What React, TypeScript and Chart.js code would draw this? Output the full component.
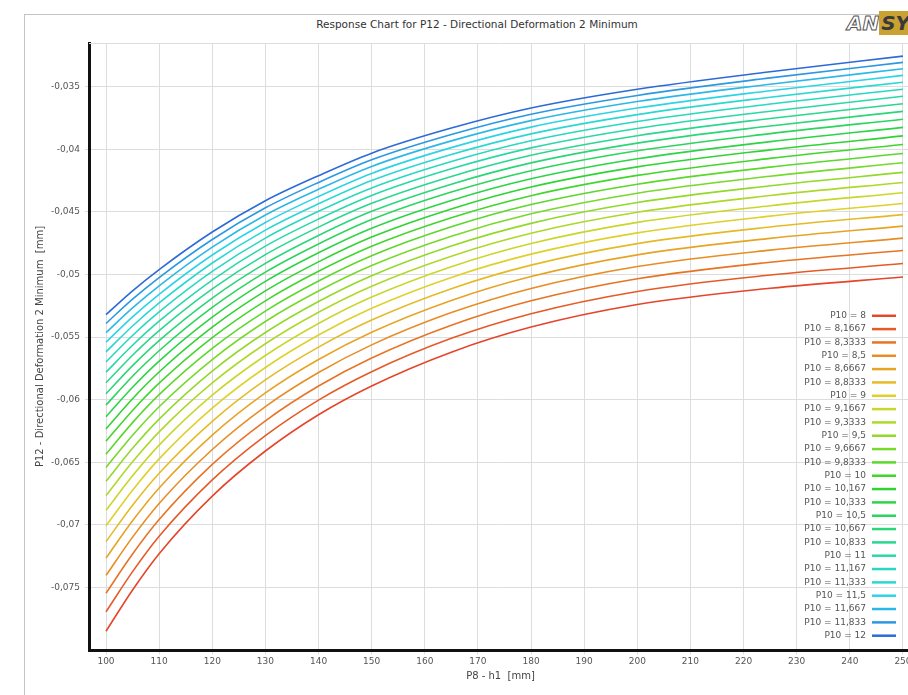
import React, { useEffect, useRef } from 'react';
import { Chart, registerables } from 'chart.js';

Chart.register(...registerables);

// ---- data ----
const hValues = [100, 105, 110, 120, 130, 140, 150, 165, 180, 200, 225, 250];
const xTicks = [100, 110, 120, 130, 140, 150, 160, 170, 180, 190, 200, 210, 220, 230, 240, 250];
const yTicks = [-0.075, -0.07, -0.065, -0.06, -0.055, -0.05, -0.045, -0.04, -0.035];
const yTickLabels = ['-0,075', '-0,07', '-0,065', '-0,06', '-0,055', '-0,05', '-0,045', '-0,04', '-0,035'];
const p10Labels = [
  'P10 = 8', 'P10 = 8,1667', 'P10 = 8,3333', 'P10 = 8,5', 'P10 = 8,6667', 'P10 = 8,8333',
  'P10 = 9', 'P10 = 9,1667', 'P10 = 9,3333', 'P10 = 9,5', 'P10 = 9,6667', 'P10 = 9,8333',
  'P10 = 10', 'P10 = 10,167', 'P10 = 10,333', 'P10 = 10,5', 'P10 = 10,667', 'P10 = 10,833',
  'P10 = 11', 'P10 = 11,167', 'P10 = 11,333', 'P10 = 11,5', 'P10 = 11,667', 'P10 = 11,833',
  'P10 = 12',
];

const s00 = [-0.0785, -0.0752, -0.0723, -0.0677, -0.0641, -0.0612, -0.0589, -0.0562, -0.0542, -0.0524, -0.0511, -0.0502];
const s01 = [-0.07695, -0.07374, -0.07091, -0.06641, -0.06287, -0.06003, -0.05776, -0.0551, -0.05313, -0.05135, -0.05004, -0.04912];
const s02 = [-0.07546, -0.07233, -0.06958, -0.06517, -0.06169, -0.05891, -0.05667, -0.05405, -0.0521, -0.05034, -0.04902, -0.04808];
const s03 = [-0.07404, -0.07098, -0.06829, -0.06398, -0.06055, -0.05783, -0.05562, -0.05304, -0.05111, -0.04936, -0.04805, -0.04709];
const s04 = [-0.07266, -0.06968, -0.06706, -0.06283, -0.05946, -0.05679, -0.05461, -0.05207, -0.05016, -0.04843, -0.04711, -0.04613];
const s05 = [-0.07134, -0.06844, -0.06588, -0.06173, -0.05842, -0.0558, -0.05364, -0.05113, -0.04925, -0.04753, -0.0462, -0.04521];
const s06 = [-0.07007, -0.06723, -0.06473, -0.06067, -0.05743, -0.05483, -0.0527, -0.05023, -0.04837, -0.04667, -0.04533, -0.04432];
const s07 = [-0.06884, -0.06608, -0.06363, -0.05964, -0.05647, -0.05391, -0.0518, -0.04937, -0.04752, -0.04583, -0.0445, -0.04346];
const s08 = [-0.06766, -0.06496, -0.06257, -0.05866, -0.05553, -0.05301, -0.05093, -0.04853, -0.0467, -0.04503, -0.04369, -0.04264];
const s09 = [-0.06652, -0.06388, -0.06155, -0.05771, -0.05463, -0.05215, -0.05009, -0.04772, -0.04591, -0.04425, -0.04291, -0.04184];
const s10 = [-0.06542, -0.06284, -0.06056, -0.05679, -0.05375, -0.05132, -0.04928, -0.04694, -0.04515, -0.0435, -0.04215, -0.04107];
const s11 = [-0.06435, -0.06183, -0.0596, -0.0559, -0.05292, -0.05052, -0.0485, -0.04619, -0.04441, -0.04278, -0.04142, -0.04033];
const s12 = [-0.06332, -0.06086, -0.05868, -0.05504, -0.0521, -0.04974, -0.04774, -0.04546, -0.0437, -0.04208, -0.04072, -0.03961];
const s13 = [-0.06233, -0.05992, -0.05779, -0.05421, -0.05131, -0.04899, -0.04701, -0.04476, -0.04301, -0.0414, -0.04004, -0.03892];
const s14 = [-0.06136, -0.05901, -0.05692, -0.05341, -0.05055, -0.04826, -0.0463, -0.04408, -0.04235, -0.04075, -0.03938, -0.03824];
const s15 = [-0.06043, -0.05813, -0.05609, -0.05263, -0.04981, -0.04756, -0.04561, -0.04341, -0.0417, -0.04011, -0.03874, -0.03759];
const s16 = [-0.05953, -0.05728, -0.05528, -0.05188, -0.04911, -0.04688, -0.04495, -0.04278, -0.04108, -0.0395, -0.03813, -0.03696];
const s17 = [-0.05865, -0.05645, -0.05449, -0.05115, -0.04841, -0.04621, -0.04431, -0.04216, -0.04047, -0.03891, -0.03753, -0.03635];
const s18 = [-0.0578, -0.05565, -0.05373, -0.05044, -0.04773, -0.04557, -0.04368, -0.04155, -0.03988, -0.03833, -0.03695, -0.03576];
const s19 = [-0.05698, -0.05487, -0.05299, -0.04975, -0.04709, -0.04495, -0.04308, -0.04097, -0.03931, -0.03777, -0.03638, -0.03519];
const s20 = [-0.05618, -0.05411, -0.05227, -0.04908, -0.04645, -0.04435, -0.04249, -0.04041, -0.03876, -0.03722, -0.03583, -0.03463];
const s21 = [-0.0554, -0.05338, -0.05158, -0.04844, -0.04584, -0.04376, -0.04192, -0.03986, -0.03822, -0.0367, -0.03531, -0.03409];
const s22 = [-0.05464, -0.05267, -0.0509, -0.04781, -0.04524, -0.04319, -0.04136, -0.03932, -0.0377, -0.03618, -0.03479, -0.03356];
const s23 = [-0.05391, -0.05197, -0.05024, -0.0472, -0.04467, -0.04264, -0.04083, -0.03881, -0.03719, -0.03569, -0.03429, -0.03305];
const s24 = [-0.0532, -0.0513, -0.0496, -0.0466, -0.0441, -0.0421, -0.0403, -0.0383, -0.0367, -0.0352, -0.0338, -0.03255];

const seriesList = [s00, s01, s02, s03, s04, s05, s06, s07, s08, s09, s10, s11, s12, s13, s14, s15, s16, s17, s18, s19, s20, s21, s22, s23, s24];

// ---- styles ----
const seriesColors = [
  '#e5452b', '#e65a26', '#e77424', '#e78d24', '#e6a425', '#e4bb27',
  '#dfd02a', '#c9d62a', '#aed82b', '#92d92b', '#76d92b', '#5bd82c',
  '#42d62d', '#2fd433', '#2cd447', '#2bd55e', '#2ad677', '#2ad790',
  '#29d8a8', '#29d8c0', '#2ad8d2', '#2cd4e6', '#2cb8e6', '#2c98e2',
  '#2c6ad8',
];

const FONT = '"DejaVu Sans", "Liberation Sans", sans-serif';

const legendPlugin = {
  id: 'customLegend',
  afterDraw(chart: any) {
    const { ctx, chartArea } = chart;
    ctx.save();
    ctx.strokeStyle = '#dddddd';
    ctx.lineWidth = 1;
    ctx.beginPath();
    ctx.moveTo(chartArea.left, chartArea.top + 0.5);
    ctx.lineTo(chartArea.right, chartArea.top + 0.5);
    ctx.stroke();

    const n = chart.data.datasets.length;
    ctx.font = `9px ${FONT}`;
    ctx.textAlign = 'right';
    ctx.textBaseline = 'middle';
    chart.data.datasets.forEach((ds: any, i: number) => {
      const y = chartArea.bottom - 14.3 - (n - 1 - i) * 13.33;
      ctx.fillStyle = '#555555';
      ctx.fillText(ds.label, chartArea.right - 46, y);
      ctx.strokeStyle = ds.borderColor;
      ctx.lineWidth = 2.5;
      ctx.beginPath();
      ctx.moveTo(chartArea.right - 40, y);
      ctx.lineTo(chartArea.right - 16, y);
      ctx.stroke();
    });
    ctx.restore();
  },
};

export default function App() {
  const canvasRef = useRef<HTMLCanvasElement | null>(null);

  useEffect(() => {
    if (!canvasRef.current) return;
    const datasets = seriesList.map((vals, i) => ({
      label: p10Labels[i],
      data: hValues.map((h, j) => ({ x: h, y: vals[j] })),
      borderColor: seriesColors[i],
      backgroundColor: seriesColors[i],
      borderWidth: 1.6,
      pointRadius: 0,
      fill: false,
      cubicInterpolationMode: 'monotone' as const,
    }));

    const chart = new Chart(canvasRef.current, {
      type: 'line',
      data: { datasets },
      plugins: [legendPlugin],
      options: {
        responsive: false,
        animation: false,
        devicePixelRatio: 1,
        layout: { padding: { left: 28, right: 18, top: 43, bottom: 0 } },
        plugins: {
          legend: { display: false },
          title: { display: false },
          tooltip: { enabled: false },
        },
        scales: {
          x: {
            type: 'linear',
            min: 96.8,
            max: 251.7,
            afterBuildTicks: (s: any) => {
              s.ticks = xTicks.map((v) => ({ value: v }));
            },
            afterFit: (s: any) => {
              s.height = 45;
            },
            ticks: {
              font: { family: FONT, size: 9 },
              color: '#555555',
              padding: 2,
              maxRotation: 0,
              autoSkip: false,
              callback: (v: any) => String(v),
            },
            grid: { color: '#dddddd', lineWidth: 1, tickLength: 4 },
            border: { display: true, color: '#111111', width: 3 },
            title: {
              display: true,
              text: 'P8 - h1  [mm]',
              font: { family: FONT, size: 10 },
              color: '#444444',
              padding: { top: 0, bottom: 13 },
            },
          },
          y: {
            type: 'linear',
            min: -0.08,
            max: -0.0315,
            afterBuildTicks: (s: any) => {
              s.ticks = yTicks.map((v) => ({ value: v }));
            },
            afterFit: (s: any) => {
              s.width = 61;
            },
            ticks: {
              font: { family: FONT, size: 9 },
              color: '#555555',
              padding: 5,
              autoSkip: false,
              callback: (_v: any, idx: number) => yTickLabels[idx],
            },
            grid: { color: '#dddddd', lineWidth: 1, tickLength: 4 },
            border: { display: true, color: '#111111', width: 3 },
            title: {
              display: true,
              text: 'P12 - Directional Deformation 2 Minimum  [mm]',
              font: { family: FONT, size: 10 },
              color: '#444444',
              padding: { top: 6, bottom: 0 },
            },
          },
        },
      },
    });
    return () => chart.destroy();
  }, []);

  return (
    <div
      style={{
        position: 'fixed',
        left: 0,
        top: 0,
        width: 908,
        height: 695,
        overflow: 'hidden',
        background: '#ffffff',
      }}
    >
      <div
        style={{
          position: 'absolute',
          left: 24,
          top: 14,
          width: 1200,
          height: 1200,
          borderLeft: '1.5px solid #c4c4c4',
          borderTop: '1.5px solid #c4c4c4',
        }}
      />
      <div
        style={{
          position: 'absolute',
          left: 0,
          top: 17,
          width: 954,
          textAlign: 'center',
          fontFamily: FONT,
          fontSize: 10.5,
          lineHeight: '14px',
          color: '#333333',
        }}
      >
        Response Chart for P12 - Directional Deformation 2 Minimum
      </div>
      <div
        style={{
          position: 'absolute',
          left: 847,
          top: 13,
          fontFamily: FONT,
          fontSize: 20,
          fontWeight: 'bold',
          fontStyle: 'italic',
          lineHeight: '21px',
          whiteSpace: 'nowrap',
        }}
      >
        <span style={{ color: '#ffffff', WebkitTextStroke: '1px #555555' }}>AN</span>
        <span style={{ background: '#c9a232', color: '#3a3a3a', padding: '0 2px' }}>SYS</span>
      </div>
      <canvas
        ref={canvasRef}
        width={930}
        height={695}
        style={{ position: 'absolute', left: 0, top: 0, width: 930, height: 695 }}
      />
    </div>
  );
}
